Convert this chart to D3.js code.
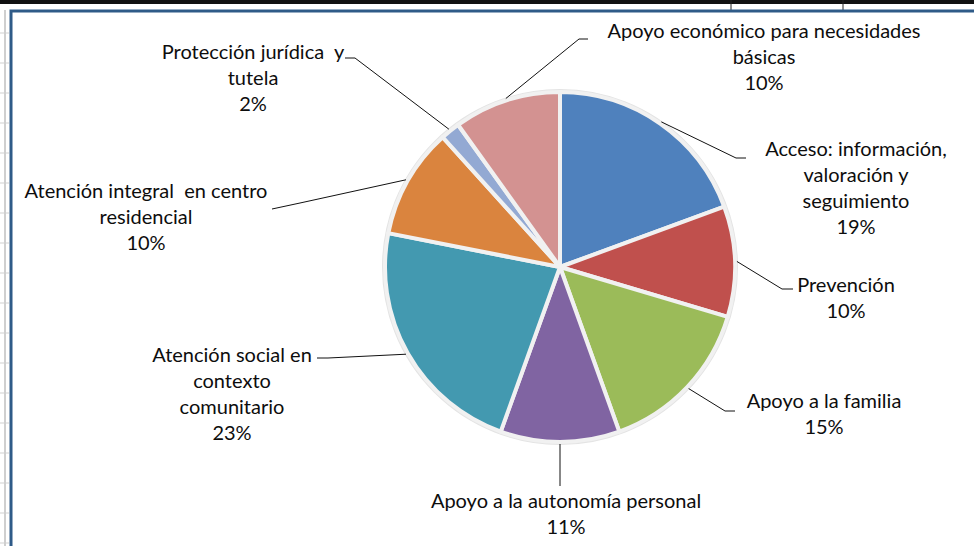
<!DOCTYPE html>
<html>
<head>
<meta charset="utf-8">
<script src="https://cdn.jsdelivr.net/npm/d3@7"></script>
<style>
  html, body { margin: 0; padding: 0; background: #fff; }
  svg { display: block; font-family: Lato, "Open Sans", sans-serif; }
</style>
</head>
<body>
<svg id="chart" width="974" height="546"></svg>
<script>
// categories in drawing order (clockwise from 12 o'clock)
const categories = [
  'Acceso: información, valoración y seguimiento',
  'Prevención',
  'Apoyo a la familia',
  'Apoyo a la autonomía personal',
  'Atención social en contexto comunitario',
  'Atención integral  en centro residencial',
  'Protección jurídica  y tutela',
  'Apoyo económico para necesidades básicas'
];
// label text broken the way the chart wraps it
const labelLines = [
  ['Acceso: información,', 'valoración y', 'seguimiento'],
  ['Prevención'],
  ['Apoyo a la familia'],
  ['Apoyo a la autonomía personal'],
  ['Atención social en', 'contexto', 'comunitario'],
  ['Atención integral  en centro', 'residencial'],
  ['Protección jurídica  y', 'tutela'],
  ['Apoyo económico para necesidades', 'básicas']
];
const shares = [19.4, 10.2, 14.9, 11.0, 22.6, 10.2, 1.8, 9.9];
const colors = ['#4f81bd', '#c0504d', '#9bbb59', '#8064a2', '#4399b0', '#da843e', '#93a9d3', '#d39291'];

// layout: label block centre x / first line centre y, leader elbow and stub end
const labelLayout = [
  { cx: 856, cy: 149, elbow: [736, 158], end: [746, 158] },
  { cx: 846, cy: 285, elbow: [782, 289], end: [793, 289] },
  { cx: 824, cy: 401, elbow: [725, 411], end: [735, 411] },
  { cx: 566, cy: 501, elbow: [560, 486], end: [560, 486] },
  { cx: 232, cy: 355, elbow: [328, 358], end: [317, 358] },
  { cx: 146, cy: 191, elbow: [300, 203], end: [272, 209] },
  { cx: 253, cy: 52, elbow: [355, 58], end: [345, 58] },
  { cx: 764, cy: 31, elbow: [579, 39], end: [588, 39] }
];

const width = 974;
const height = 546;
const cx = 560;
const cy = 267;
const radius = 175;
const lineHeight = 26;

const svg = d3.select('#chart');

// spreadsheet bits behind the chart object
svg.append('rect').attr('x', 0).attr('y', 0).attr('width', width).attr('height', 4).attr('fill', '#111');
[731, 843].forEach(function (x) {
  svg.append('line').attr('x1', x).attr('x2', x).attr('y1', 0).attr('y2', 11)
    .attr('stroke', '#222').attr('stroke-width', 1);
});
svg.append('line').attr('x1', 5).attr('x2', 5).attr('y1', 10).attr('y2', height)
  .attr('stroke', '#cfcfcf').attr('stroke-width', 2);
d3.range(33, height, 30).forEach(function (y) {
  svg.append('line').attr('x1', 0).attr('x2', 9).attr('y1', y).attr('y2', y)
    .attr('stroke', '#cfcfcf').attr('stroke-width', 1);
});

// chart area frame
svg.append('rect')
  .attr('x', 11).attr('y', 11)
  .attr('width', width + 20).attr('height', height + 20)
  .attr('fill', '#fff')
  .attr('stroke', '#2f5b88')
  .attr('stroke-width', 3);

const pie = d3.pie().sort(null).value(function (d) { return d; });
const arcs = pie(shares);
const arc = d3.arc().innerRadius(0).outerRadius(radius);

const g = svg.append('g').attr('transform', `translate(${cx},${cy})`);

// faint outer ring
g.append('circle').attr('r', radius + 1.5).attr('fill', 'none')
  .attr('stroke', '#e4e4e4').attr('stroke-width', 3);

g.selectAll('path.slice')
  .data(arcs)
  .enter().append('path')
    .attr('class', 'slice')
    .attr('d', arc)
    .attr('fill', function (d, i) { return colors[i]; })
    .attr('stroke', '#f1f1f1')
    .attr('stroke-width', 4)
    .attr('stroke-linejoin', 'round');

// leader lines start on the rim at each slice's mid angle
const rim = d3.arc().innerRadius(radius + 2).outerRadius(radius + 2);
arcs.forEach(function (d, i) {
  const p = rim.centroid(d);
  const lay = labelLayout[i];
  const pts = [[cx + p[0], cy + p[1]], lay.elbow, lay.end];
  svg.append('path')
    .attr('d', d3.line()(pts))
    .attr('fill', 'none')
    .attr('stroke', '#111')
    .attr('stroke-width', 1);
});

// labels: name lines then rounded percentage
arcs.forEach(function (d, i) {
  const lay = labelLayout[i];
  const lines = labelLines[i].concat([Math.round(shares[i]) + '%']);
  const text = svg.append('text')
    .attr('text-anchor', 'middle')
    .attr('fill', '#0d0d0d')
    .attr('font-size', 20);
  lines.forEach(function (line, k) {
    text.append('tspan')
      .attr('x', lay.cx)
      .attr('y', lay.cy + k * lineHeight)
      .attr('dy', '0.35em')
      .attr('xml:space', 'preserve')
      .text(line);
  });
});
</script>
</body>
</html>
